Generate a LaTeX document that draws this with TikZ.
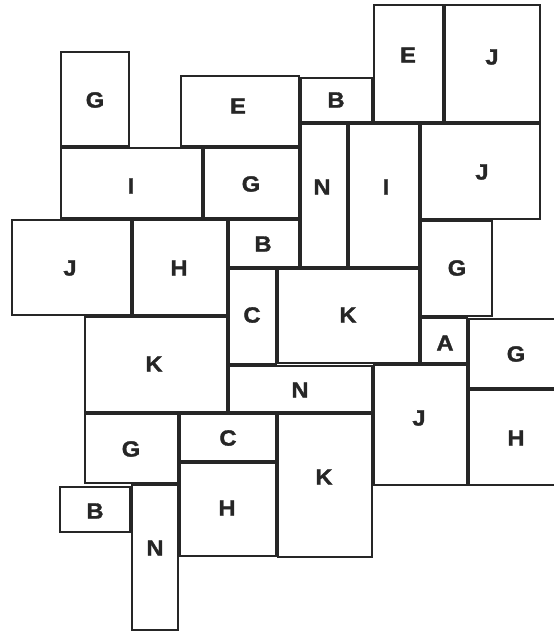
\documentclass[tikz,border=0pt]{standalone}
\usepackage{fontspec}
\setmainfont{Liberation Sans}
\newfontfamily\lblfont{Liberation Sans}[BoldFeatures={FakeBold=1.5}]
\tikzset{
  tileline/.style={draw=black!85, line width=2.3pt, fill=white},
  lbl/.style={font=\lblfont\bfseries\fontsize{22}{22}\selectfont, text=black!85, inner sep=0pt, xscale=1.08}
}
% name, x1, y1, x2, y2, label x, label y, text
\newcommand\tile[8]{%
  \draw[tileline] (#2+1.2,#3+1.2) rectangle (#4-1.2,#5-1.2);
  \node[lbl] (#1) at (#6,#7) {#8};
}
\begin{document}
\begin{tikzpicture}[x=1pt,y=-1pt]
\useasboundingbox (0,0) rectangle (554,633);
\clip (0,0) rectangle (554,633);
\tile{g1}{60}{51}{130}{147}{95}{100}{G}
\tile{e1}{180}{75}{300}{147}{238}{106}{E}
\tile{b1}{300}{77}{373}{123}{336}{100}{B}
\tile{e2}{373}{4}{444}{123}{408}{55}{E}
\tile{j1}{444}{4}{541}{123}{492}{57}{J}
\tile{i1}{60}{147}{203}{219}{131}{186}{I}
\tile{g2}{203}{147}{300}{219}{251}{184}{G}
\tile{n1}{300}{123}{348}{268}{322}{187}{N}
\tile{i2}{348}{123}{420}{268}{386}{187}{I}
\tile{j2}{420}{123}{541}{220}{482}{172}{J}
\tile{j3}{11}{219}{132}{316}{70}{268}{J}
\tile{h1}{132}{219}{228}{316}{179}{268}{H}
\tile{b2}{228}{219}{300}{268}{263}{244}{B}
\tile{g3}{420}{220}{493}{317}{457}{268}{G}
\tile{c1}{228}{268}{277}{365}{252}{315}{C}
\tile{k1}{277}{268}{420}{364}{348}{315}{K}
\tile{k2}{84}{316}{228}{413}{154}{364}{K}
\tile{a1}{420}{317}{468}{364}{445}{343}{A}
\tile{g4}{468}{318}{560}{389}{516}{354}{G}
\tile{n2}{228}{365}{373}{413}{300}{390}{N}
\tile{j4}{373}{364}{468}{486}{419}{418}{J}
\tile{h2}{468}{389}{560}{486}{516}{438}{H}
\tile{g5}{84}{413}{179}{484}{131}{449}{G}
\tile{c2}{179}{413}{277}{462}{228}{438}{C}
\tile{k3}{277}{413}{373}{558}{324}{477}{K}
\tile{h3}{179}{462}{277}{557}{227}{508}{H}
\tile{b3}{59}{486}{131}{533}{95}{511}{B}
\tile{n3}{131}{484}{179}{631}{155}{548}{N}
\end{tikzpicture}
\end{document}
